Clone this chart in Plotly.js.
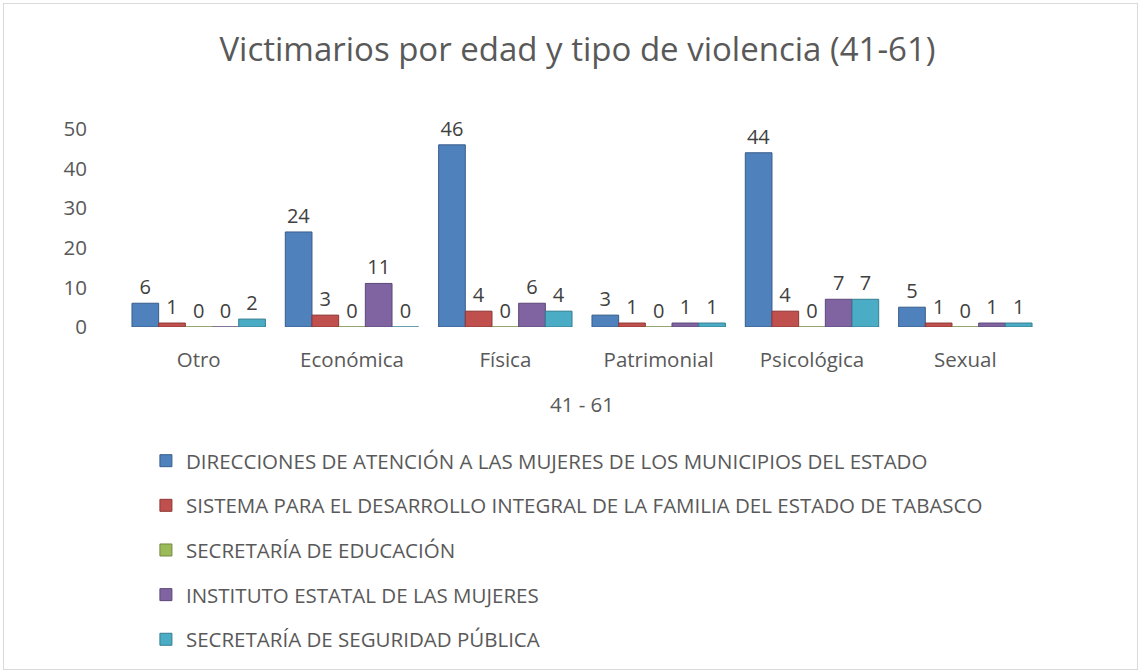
<!DOCTYPE html>
<html>
<head>
<meta charset="utf-8">
<script src="https://cdn.plot.ly/plotly-3.0.1.min.js"></script>
<style>
html,body{margin:0;padding:0;background:#fff;}
#chart{width:1141px;height:672px;}
#frame{position:absolute;left:3px;top:3px;width:1133px;height:665px;border:1px solid #d9d9d9;pointer-events:none;}
</style>
</head>
<body>
<div id="chart"></div>
<div id="frame"></div>
<script>
const categories = ["Otro", "Económica", "Física", "Patrimonial", "Psicológica", "Sexual"];
const seriesNames = [
  "DIRECCIONES DE ATENCIÓN A LAS MUJERES DE LOS MUNICIPIOS DEL ESTADO",
  "SISTEMA PARA EL DESARROLLO INTEGRAL DE LA FAMILIA DEL ESTADO DE TABASCO",
  "SECRETARÍA DE EDUCACIÓN",
  "INSTITUTO ESTATAL DE LAS MUJERES",
  "SECRETARÍA DE SEGURIDAD PÚBLICA"
];
const direcciones = [6, 24, 46, 3, 44, 5];
const dif = [1, 3, 4, 1, 4, 1];
const educacion = [0, 0, 0, 0, 0, 0];
const instituto = [0, 11, 6, 1, 7, 1];
const seguridad = [2, 0, 4, 1, 7, 1];
const yTicks = [0, 10, 20, 30, 40, 50];

const seriesValues = [direcciones, dif, educacion, instituto, seguridad];
const colors = ["#4F81BD", "#C0504D", "#9BBB59", "#8064A2", "#4BACC6"];
const edgeColors = ["#385D8A", "#8C3836", "#71893F", "#5C4776", "#357D91"];

const font = "Open Sans, sans-serif";
const traces = seriesValues.map((vals, i) => ({
  type: "bar",
  name: seriesNames[i],
  x: categories,
  y: vals,
  text: vals.map(String),
  textposition: "outside",
  cliponaxis: false,
  textfont: {family: font, size: 20, color: "#404040"},
  marker: {color: colors[i], line: {color: edgeColors[i], width: 1}},
  legendgroup: "g" + i,
  hoverinfo: "x+y+name"
}));

const layout = {
  width: 1141,
  height: 672,
  paper_bgcolor: "#ffffff",
  plot_bgcolor: "#ffffff",
  margin: {l: 122, r: 99, t: 129, b: 345, autoexpand: false},
  barmode: "group",
  bargap: 0.13,
  bargroupgap: 0,
  title: {
    text: "Victimarios por edad y tipo de violencia (41-61)",
    font: {family: font, size: 33, color: "#595959"},
    x: 577.5 / 1141, xanchor: "center", xref: "container",
    y: 1 - 49 / 672, yanchor: "middle", yref: "container"
  },
  xaxis: {
    type: "category",
    showgrid: false, zeroline: false, showline: false,
    ticks: "outside", ticklen: 14, tickcolor: "rgba(0,0,0,0)",
    tickfont: {family: font, size: 20.5, color: "#595959"},
    title: {text: "41 - 61", font: {family: font, size: 20.5, color: "#595959"}, standoff: 26}
  },
  yaxis: {
    range: [0, 50],
    tickvals: yTicks,
    showgrid: false, zeroline: false, showline: false,
    ticks: "outside", ticklen: 30, tickcolor: "rgba(0,0,0,0)",
    tickfont: {family: font, size: 20.5, color: "#595959"}
  },
  legend: {
    orientation: "v",
    x: 0.026, xanchor: "left",
    y: -0.575, yanchor: "top",
    tracegroupgap: 15,
    font: {family: font, size: 20.5, color: "#595959"},
    bgcolor: "rgba(0,0,0,0)"
  },
  showlegend: true
};

Plotly.newPlot("chart", traces, layout, {displayModeBar: false, responsive: false});
</script>
</body>
</html>
